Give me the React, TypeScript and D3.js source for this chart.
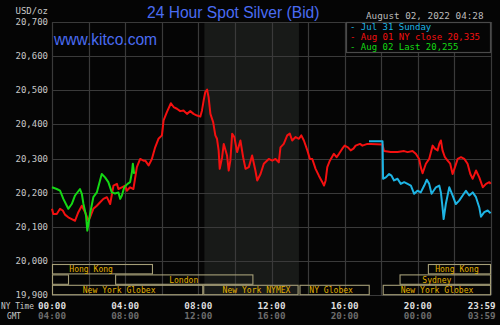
import React from "react";
import * as d3 from "d3";

// ---------- data ----------
const yTicks = [19.9, 20.0, 20.1, 20.2, 20.3, 20.4, 20.5, 20.6, 20.7];
const gridHours = [0, 2, 4, 6, 8, 10, 12, 14, 16, 18, 20, 22, 24];
const nyTickHours = [0, 4, 8, 12, 16, 20, 23.983];
const nyTickLabels = ["00:00", "04:00", "08:00", "12:00", "16:00", "20:00", "23:59"];
const gmtTickLabels = ["04:00", "08:00", "12:00", "16:00", "20:00", "00:00", "03:59"];
const comexHours = [8.33, 13.5];

// [NY hour, price]
const aug01: [number, number][] = [
  [0, 20.153], [0.07, 20.138], [0.26, 20.138], [0.44, 20.153], [0.59, 20.148], [0.71, 20.136],
  [0.89, 20.128], [1.08, 20.123], [1.26, 20.118], [1.44, 20.143], [1.63, 20.162], [1.81, 20.143],
  [1.99, 20.118], [2.08, 20.128], [2.26, 20.153], [2.45, 20.162], [2.63, 20.172], [2.81, 20.182],
  [3.0, 20.187], [3.18, 20.167], [3.36, 20.221], [3.55, 20.226], [3.63, 20.211], [3.82, 20.216],
  [4.0, 20.221], [4.09, 20.206], [4.27, 20.216], [4.45, 20.211], [4.64, 20.275], [4.82, 20.299],
  [5.0, 20.294], [5.1, 20.294], [5.28, 20.28], [5.46, 20.299], [5.64, 20.333], [5.82, 20.358],
  [6.01, 20.368], [6.1, 20.412], [6.28, 20.436], [6.5, 20.462], [6.65, 20.451], [6.83, 20.446],
  [7.01, 20.439], [7.19, 20.441], [7.38, 20.431], [7.56, 20.439], [7.74, 20.431], [7.93, 20.426],
  [8.11, 20.423], [8.2, 20.441], [8.29, 20.47], [8.38, 20.495], [8.48, 20.502], [8.56, 20.48],
  [8.66, 20.431], [8.81, 20.407], [8.93, 20.368], [9.02, 20.358], [9.11, 20.324], [9.17, 20.27],
  [9.3, 20.304], [9.39, 20.343], [9.57, 20.309], [9.66, 20.265], [9.75, 20.294], [9.85, 20.373],
  [9.97, 20.363], [10.12, 20.319], [10.3, 20.353], [10.45, 20.304], [10.58, 20.27], [10.76, 20.275],
  [10.94, 20.309], [11.12, 20.265], [11.22, 20.236], [11.4, 20.255], [11.58, 20.285], [11.85, 20.299],
  [12.04, 20.294], [12.22, 20.299], [12.4, 20.289], [12.49, 20.333], [12.67, 20.343], [12.86, 20.368],
  [13.0, 20.373], [13.13, 20.353], [13.32, 20.363], [13.5, 20.358], [13.63, 20.368], [13.77, 20.353],
  [13.96, 20.324], [14.1, 20.299], [14.23, 20.299], [14.41, 20.27], [14.59, 20.25], [14.78, 20.231],
  [14.87, 20.221], [14.96, 20.236], [15.05, 20.275], [15.19, 20.294], [15.41, 20.314], [15.56, 20.304],
  [15.69, 20.314], [15.87, 20.329], [16.0, 20.338], [16.18, 20.333], [16.33, 20.324], [16.48, 20.329],
  [16.6, 20.338], [16.84, 20.343], [16.97, 20.338], [17.24, 20.343], [17.42, 20.343], [18.07, 20.341],
  [18.15, 20.322], [18.52, 20.319], [18.89, 20.319], [19.25, 20.322], [19.44, 20.319], [19.71, 20.322],
  [19.89, 20.314], [20.07, 20.299], [20.16, 20.275], [20.26, 20.257], [20.44, 20.285], [20.62, 20.299],
  [20.81, 20.338], [20.93, 20.329], [21.08, 20.324], [21.17, 20.343], [21.26, 20.353], [21.35, 20.324],
  [21.48, 20.304], [21.63, 20.294], [21.77, 20.285], [21.9, 20.255], [22.03, 20.275], [22.18, 20.299],
  [22.36, 20.304], [22.54, 20.299], [22.72, 20.285], [22.87, 20.255], [23.0, 20.241], [23.18, 20.265],
  [23.36, 20.245], [23.55, 20.216], [23.73, 20.226], [23.91, 20.231], [23.98, 20.226],
];

const jul31: [number, number][] = [
  [17.33, 20.351], [18.07, 20.351], [18.1, 20.241], [18.25, 20.245], [18.43, 20.255], [18.56, 20.25],
  [18.7, 20.236], [18.89, 20.241], [19.07, 20.226], [19.25, 20.231], [19.44, 20.226], [19.62, 20.221],
  [19.8, 20.197], [19.98, 20.206], [20.16, 20.201], [20.35, 20.221], [20.49, 20.238], [20.62, 20.226],
  [20.75, 20.197], [20.99, 20.216], [21.17, 20.221], [21.26, 20.201], [21.35, 20.157], [21.41, 20.123],
  [21.53, 20.167], [21.72, 20.216], [21.9, 20.192], [22.08, 20.167], [22.26, 20.177], [22.45, 20.192],
  [22.63, 20.206], [22.81, 20.192], [23.0, 20.201], [23.18, 20.187], [23.36, 20.157], [23.45, 20.13],
  [23.63, 20.143], [23.82, 20.148], [23.98, 20.14],
];

const aug02: [number, number][] = [
  [0, 20.216], [0.26, 20.211], [0.44, 20.206], [0.62, 20.182], [0.89, 20.153], [1.08, 20.167],
  [1.26, 20.192], [1.53, 20.211], [1.63, 20.197], [1.72, 20.167], [1.86, 20.133], [1.93, 20.089],
  [2.08, 20.138], [2.26, 20.187], [2.45, 20.201], [2.72, 20.255], [2.9, 20.245], [3.08, 20.231],
  [3.27, 20.201], [3.45, 20.198], [3.63, 20.201], [3.73, 20.182], [3.82, 20.192], [3.95, 20.216],
  [4.13, 20.226], [4.27, 20.231], [4.37, 20.26], [4.42, 20.285], [4.49, 20.255],
];

const legendLabels = ["Jul 31 Sunday", "Aug 01 NY close", "Aug 02 Last"];
const legendValues: (number | null)[] = [null, 20.335, 20.255];
const seriesColors = ["#1eb4e4", "#f41010", "#14d814"];

// sessions: row, start hour, end hour, label, label centre hour
const sessionRows = [0, 0, 1, 1, 1, 2, 2, 2, 2];
const sessionStarts = [0, 20.55, 0, 3.45, 19.0, 0, 8.27, 13.53, 18.08];
const sessionEnds = [5.52, 24, 0.93, 11.01, 24, 8.27, 13.48, 17.37, 24];
const sessionLabels = ["Hong Kong", "Hong Kong", "", "London", "Sydney", "New York Globex", "New York NYMEX", "NY Globex", "New York Globex"];
const sessionLabelAt = [2.14, 22.14, 0, 7.2, 21.04, 3.67, 11.18, 15.26, 21.05];

// ---------- layout ----------
const W = 500;
const H = 325;
const x = d3.scaleLinear().domain([0, 24]).range([52, 491]);
const y = d3.scaleLinear().domain([19.9, 20.7]).range([295.2, 22]);
const fmt = d3.formatLocale({ decimal: ",", thousands: ".", grouping: [3], currency: ["", ""] }).format(".3f");
const mono = "'DejaVu Sans Mono', monospace";
const line = d3.line<[number, number]>().x((d) => x(d[0])).y((d) => y(d[1]));

export default function App() {
  const rowH = 10.4;
  const rowTop = (r: number) => y(19.9) - (3 - r) * rowH;
  return (
    <div style={{ position: "fixed", left: 0, top: 0 }}>
      <svg width={W} height={H} style={{ display: "block", background: "#050505" }}>
        <rect x={0} y={0} width={W} height={H} fill="#050505" />
        {/* COMEX shaded */}
        <rect x={x(comexHours[0])} y={y(20.7)} width={x(comexHours[1]) - x(comexHours[0])} height={y(19.9) - y(20.7)} fill="#181a18" />
        {/* grid */}
        {yTicks.map((t) => (
          <line key={"h" + t} x1={x(0)} x2={x(24)} y1={Math.round(y(t)) + 0.5} y2={Math.round(y(t)) + 0.5} stroke="#3a3a3a" strokeWidth={1.2} />
        ))}
        {gridHours.map((h) => (
          <line key={"v" + h} x1={Math.round(x(h)) + 0.5} x2={Math.round(x(h)) + 0.5} y1={y(20.7)} y2={y(19.9)} stroke="#3a3a3a" strokeWidth={1.2} />
        ))}
        {/* sessions */}
        {sessionRows.map((r, i) => (
          <g key={"s" + i}>
            <rect x={x(sessionStarts[i]) + 0.5} y={rowTop(r) + 0.5} width={x(sessionEnds[i]) - x(sessionStarts[i]) - 1} height={rowH - 1} fill="none" stroke="#a69f78" strokeWidth={1.1} />
            {sessionLabels[i] && (
              <text x={x(sessionLabelAt[i])} y={rowTop(r) + 8.2} textAnchor="middle" fontFamily={mono} fontSize={9} fill="#e2b000"
                textLength={sessionLabels[i].length * 4.85} lengthAdjust="spacingAndGlyphs">
                {sessionLabels[i]}
              </text>
            )}
          </g>
        ))}
        {/* series */}
        <path d={line(aug01) || ""} fill="none" stroke={seriesColors[1]} strokeWidth={2} strokeLinejoin="round" />
        <path d={line(jul31) || ""} fill="none" stroke={seriesColors[0]} strokeWidth={2} strokeLinejoin="round" />
        <path d={line(aug02) || ""} fill="none" stroke={seriesColors[2]} strokeWidth={2} strokeLinejoin="round" />
        {/* legend box */}
        <rect x={346.5} y={22.5} width={144} height={30} fill="#050505" stroke="#4a4a4a" strokeWidth={1.2} />
        {legendLabels.map((l, i) => (
          <text key={"l" + i} x={350} y={29.5 + i * 10} fontFamily={mono} fontSize={9} fill={seriesColors[i]}>
            {"- " + l + (legendValues[i] !== null ? " " + fmt(legendValues[i] as number) : "")}
          </text>
        ))}
        {/* y labels */}
        <text x={48} y={14} textAnchor="end" fontFamily={mono} fontSize={9} fill="#c8c8c8">USD/oz</text>
        {yTicks.map((t) => (
          <text key={"yl" + t} x={48} y={y(t) + 3} textAnchor="end" fontFamily={mono} fontSize={9} fill="#c8c8c8">{fmt(t)}</text>
        ))}
        {/* title */}
        <text x={147} y={17.5} fontFamily="'Liberation Sans', Arial, sans-serif" fontSize={15.6} fill="#4a6cf2">24 Hour Spot Silver (Bid)</text>
        <text x={54} y={44.5} fontFamily="'Liberation Sans', Arial, sans-serif" fontSize={15.6} fill="#4a6cf2">www.kitco.com</text>
        <text x={366} y={19} fontFamily={mono} fontSize={9.3} fill="#bcbcbc">August 02, 2022 04:28</text>
        {/* x labels */}
        <text x={1} y={308.5} fontFamily={mono} fontSize={9} fill="#c8c8c8" textLength={33} lengthAdjust="spacingAndGlyphs">NY Time</text>
        <text x={7} y={318.5} fontFamily={mono} fontSize={9} fill="#c8c8c8" textLength={14} lengthAdjust="spacingAndGlyphs">GMT</text>
        {nyTickHours.map((h, i) => {
          const cx = Math.min(x(h), 481.7);
          return (
            <g key={"xt" + i}>
              <text x={cx} y={308.5} textAnchor="middle" fontFamily={mono} fontWeight="bold" fontSize={9.3} fill="#dedede">{nyTickLabels[i]}</text>
              <text x={cx} y={318.5} textAnchor="middle" fontFamily={mono} fontWeight="bold" fontSize={9.3} fill="#6c6c6c">{gmtTickLabels[i]}</text>
            </g>
          );
        })}
      </svg>
    </div>
  );
}
